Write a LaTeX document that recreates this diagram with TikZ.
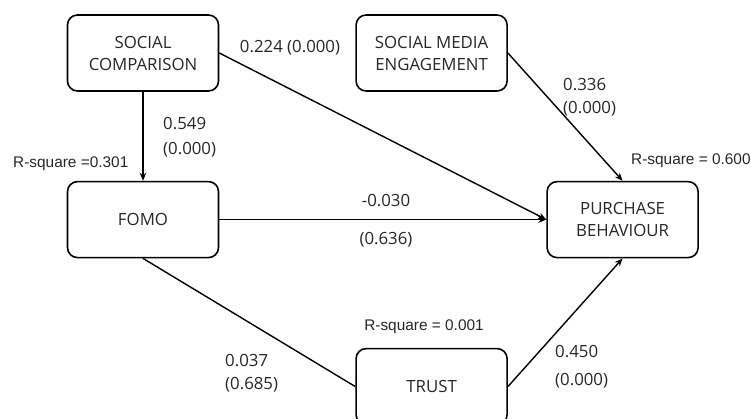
\documentclass[tikz,border=0pt]{standalone}
\usepackage{fontspec}
\setmainfont{Open Sans}
\newfontfamily\rsqfont{Liberation Sans}
\usetikzlibrary{positioning,arrows.meta}

\tikzset{
  construct/.style={draw, rounded corners=10pt, line width=1.6pt, minimum width=151pt,
    minimum height=76pt, align=center, inner sep=2pt, text=black!85,
    font=\fontsize{16.8}{22}\selectfont},
  link/.style={line width=1.4pt},
  arrowpath/.style={link, -{Stealth[length=8pt,width=6.5pt]}},
  coef/.style={font=\fontsize{16.8}{23}\selectfont, align=left, inner sep=0pt, text=black!85},
  rsq/.style={font=\rsqfont\fontsize{15.4}{17}\selectfont, inner sep=0pt, text=black!85}
}

\begin{document}
\begin{tikzpicture}[x=1pt,y=-1pt]
\useasboundingbox (0,0) rectangle (751,419);
\node[construct] (sc) at (143,53) {SOCIAL\\COMPARISON};
\node[construct, right=136pt of sc] (sme) {SOCIAL MEDIA\\ENGAGEMENT};
\node[construct, below=89pt of sc] (fomo) {FOMO};
\node[construct, right=327pt of fomo] (pb) {PURCHASE\\BEHAVIOUR};
\node[construct, below=256pt of sme] (trust) {TRUST};

\draw[arrowpath] (sc) -- (fomo);
\draw[arrowpath] (sc.east) -- (pb.west);
\draw[arrowpath] (fomo) -- (pb);
\draw[arrowpath] (sme.east) -- (pb.north);
\draw[link] (fomo.south) -- (trust.west);
\draw[arrowpath] (trust.east) -- (pb.south);

\node[coef] (b224) at (290,48) {0.224 (0.000)};
\node[coef, anchor=west] (b549) at (163,137) {0.549\\[2pt](0.000)};
\node[rsq, anchor=west] (r301) at (13,164) {R-square =0.301};
\node[coef, anchor=west] (b336) at (563,97) {0.336\\(0.000)};
\node[rsq, anchor=west] (r600) at (631,161) {R-square = 0.600};
\node[coef] (b030) at (386,201) {-0.030};
\node[coef] (p030) at (386,240) {(0.636)};
\node[rsq] (r001) at (424,327) {R-square = 0.001};
\node[coef, anchor=west] (b037) at (225,373) {0.037\\(0.685)};
\node[coef, anchor=west] (b450) at (555,367) {0.450\\[5pt](0.000)};
\end{tikzpicture}
\end{document}
